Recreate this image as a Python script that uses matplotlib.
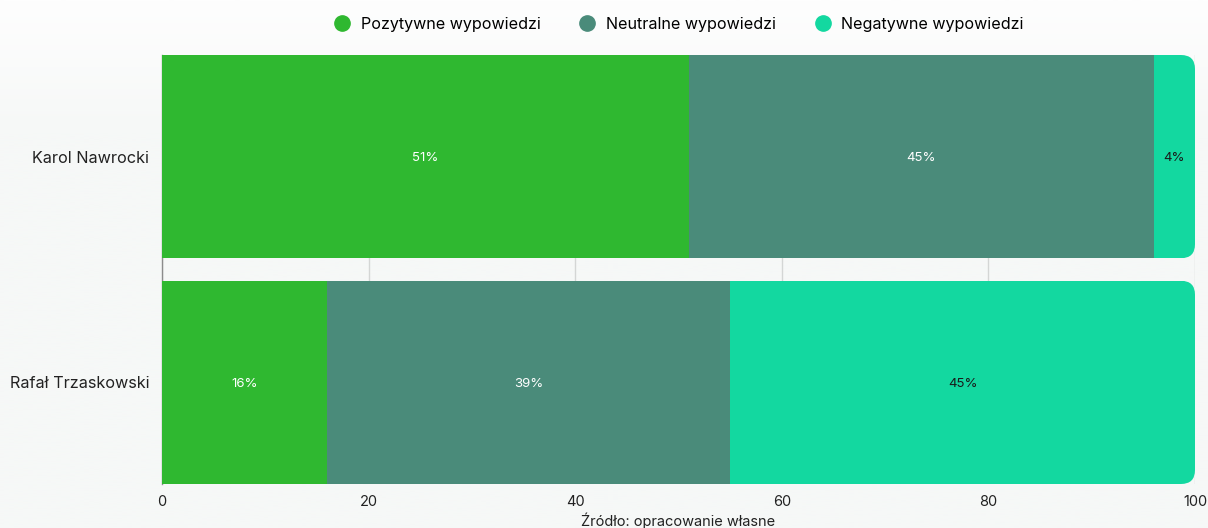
import numpy as np
import matplotlib.pyplot as plt
from matplotlib.patches import FancyBboxPatch
from matplotlib.lines import Line2D

# dane
kandydaci = ['Karol Nawrocki', 'Rafał Trzaskowski']
serie = ['Pozytywne wypowiedzi', 'Neutralne wypowiedzi', 'Negatywne wypowiedzi']
pozytywne = [51, 16]
neutralne = [45, 39]
negatywne = [4, 45]
kolory = ['#2fb830', '#4a8b7a', '#13d8a0']
kolory_tekstu = ['white', 'white', '#1a1a1a']

plt.rcParams['font.family'] = ['Inter', 'DejaVu Sans']

fig = plt.figure(figsize=(12.08, 5.28), dpi=100)

# tlo z lekkim gradientem
bg = fig.add_axes([0, 0, 1, 1], zorder=-10)
grad = np.linspace(0, 1, 256).reshape(-1, 1)
c_top = np.array([0xfe, 0xfe, 0xfe]) / 255
c_bot = np.array([0xf6, 0xf8, 0xf7]) / 255
img = c_top + (c_bot - c_top) * np.clip(grad * 4, 0, 1)[:, :, None]
bg.imshow(img.reshape(256, 1, 3), aspect='auto', extent=[0, 1, 0, 1])
bg.axis('off')

W, H = 1208, 528
ax = fig.add_axes([162 / W, 1 - 484 / H, (1195 - 162) / W, (484 - 55) / H])
ax.set_facecolor('none')

y = np.arange(len(kandydaci))
dane = [pozytywne, neutralne, negatywne]
lewo = np.zeros(len(kandydaci))
wysokosc = 0.9
kontenery = []
for i, wart in enumerate(dane):
    b = ax.barh(y, wart, left=lewo, height=wysokosc, color=kolory[i], zorder=3)
    kontenery.append(b)
    for j, v in enumerate(wart):
        ax.text(lewo[j] + v / 2, y[j] + 0.005, f'{v}%', ha='center', va='center',
                color=kolory_tekstu[i], fontsize=9.5, zorder=5)
    lewo = lewo + np.array(wart)

ax.set_xlim(0, 100)
ax.set_ylim(len(kandydaci) - 0.5 - (1 - wysokosc) / 2, -0.45)

# zaokraglone prawe konce
r_px = 14
rx = r_px * 100 / (1195 - 162)
ry = r_px * 1.9 / (484 - 55)
for j in range(len(kandydaci)):
    clip = FancyBboxPatch((-5, y[j] - wysokosc / 2), 105, wysokosc,
                          boxstyle=f'round,pad=0,rounding_size={rx}',
                          mutation_aspect=ry / rx, transform=ax.transData,
                          facecolor='none', edgecolor='none')
    for b in kontenery:
        b.patches[j].set_clip_path(clip)

ax.set_xticks([0, 20, 40, 60, 80, 100])
ax.grid(axis='x', color='#d4d6d5', linewidth=1, zorder=0)
ax.set_yticks(y)
ax.set_yticklabels(kandydaci, fontsize=11.7, color='#222222')
ax.tick_params(axis='both', length=0, pad=9)
ax.tick_params(axis='x', labelsize=10.5, labelcolor='#222222', pad=8)
for s in ['top', 'right', 'bottom']:
    ax.spines[s].set_visible(False)
ax.spines['left'].set_color('#8c8c8c')
ax.spines['left'].set_linewidth(1)

uchwyty = [Line2D([], [], marker='o', linestyle='none', markersize=11,
                  markerfacecolor=k, markeredgecolor=k) for k in kolory]
fig.legend(uchwyty, serie, loc='center', bbox_to_anchor=(675 / W, 1 - 24 / H),
           ncol=3, frameon=False, fontsize=11.6, handletextpad=0.15,
           columnspacing=1.9)

fig.text(678 / W, 1 - 521 / H, 'Źródło: opracowanie własne', ha='center',
         va='center', fontsize=10.5, color='#222222')

fig.savefig('out.png', dpi=100)
